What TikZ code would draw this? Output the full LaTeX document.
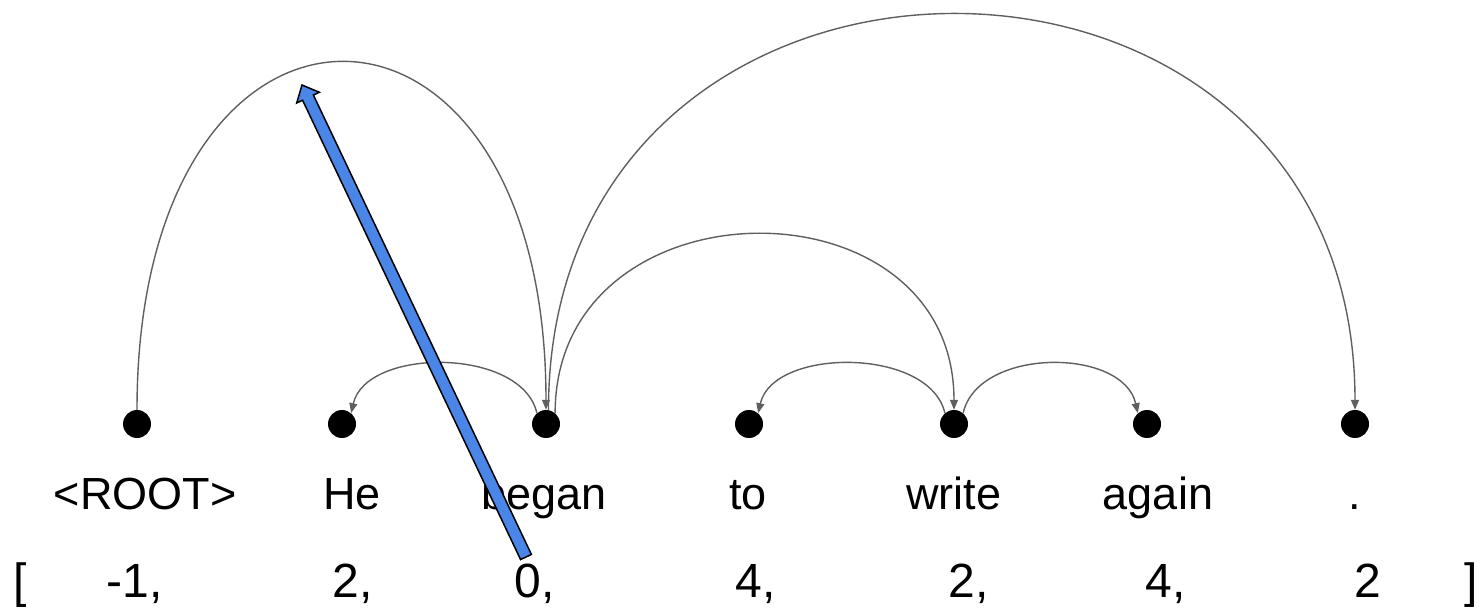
\documentclass[tikz,border=0pt]{standalone}
\usepackage{fontspec}
\setmainfont{Liberation Sans}
\usetikzlibrary{arrows.meta,calc}
\definecolor{arcgray}{HTML}{5F5F5F}
\definecolor{ptrblue}{HTML}{4A86E8}
\begin{document}
\begin{tikzpicture}[x=1pt,y=-1pt,
  tok/.style={circle,fill=black,minimum size=28pt,inner sep=0pt},
  word/.style={anchor=base,inner sep=0pt,font=\fontsize{45}{54}\selectfont},
  num/.style={anchor=base,inner sep=0pt,font=\fontsize{48}{58}\selectfont},
  dep/.style={draw=arcgray,line width=1.4pt,-{Triangle[length=10pt,width=8pt]}},
  pointer/.style={fill=ptrblue,draw=black,line width=1.5pt,line join=miter},
]
\useasboundingbox (0,0) rectangle (1481,609);

% token dots
\node[tok] (t0) at (137,424) {};
\node[tok] (t1) at (342,424) {};
\node[tok] (t2) at (546,424) {};
\node[tok] (t3) at (749,424) {};
\node[tok] (t4) at (954,424) {};
\node[tok] (t5) at (1147,424) {};
\node[tok] (t6) at (1355,424) {};

% words
\node[word] (w0) at (145,509) {<ROOT>};
\node[word] (w1) at (352,509) {He};
\node[word] (w2) at (544,509) {began};
\node[word] (w3) at (748,509) {to};
\node[word] (w4) at (954,509) {write};
\node[word] (w5) at (1158,509) {again};
\node[word] (w6) at (1355,509) {.};

% head indices
\node[num,anchor=base west] (lb) at (13,597) {[};
\node[num] (n0) at (135,597) {-1,};
\node[num] (n1) at (353,597) {2,};
\node[num] (n2) at (535,597) {0,};
\node[num] (n3) at (756,597) {4,};
\node[num] (n4) at (969,597) {2,};
\node[num] (n5) at (1166,597) {4,};
\node[num] (n6) at (1368,597) {2};
\node[num,anchor=base west] (rb) at (1464,597) {]};

% dependency arcs
\draw[dep] (t0.north) .. controls +(0,-463) and +(0,-463) .. (t2.north);
\draw[dep] (t2.130) .. controls +(-15,-66) and +(15,-66) .. (t1.50);
\draw[dep] (t2.80) .. controls +(0,-527) and +(0,-527) .. (t6.north);
\draw[dep] (t2.50) .. controls +(0,-236) and +(0,-236) .. (t4.north);
\draw[dep] (t4.130) .. controls +(-15,-66) and +(15,-66) .. (t3.50);
\draw[dep] (t4.50) .. controls +(15,-66) and +(-15,-66) .. (t5.130);

% block arrow
\coordinate (ptail) at (526,557);
\coordinate (ptip) at (302,85);
\coordinate (pneck) at ($(ptip)!14pt!(ptail)$);
\draw[pointer]
  ($(ptail)!6pt!90:(ptip)$) -- ($(pneck)!6pt!90:(ptip)$)
  -- ($(pneck)!12.5pt!90:(ptip)$) -- (ptip)
  -- ($(pneck)!12.5pt!-90:(ptip)$) -- ($(pneck)!6pt!-90:(ptip)$)
  -- ($(ptail)!6pt!-90:(ptip)$) -- cycle;
\end{tikzpicture}
\end{document}
